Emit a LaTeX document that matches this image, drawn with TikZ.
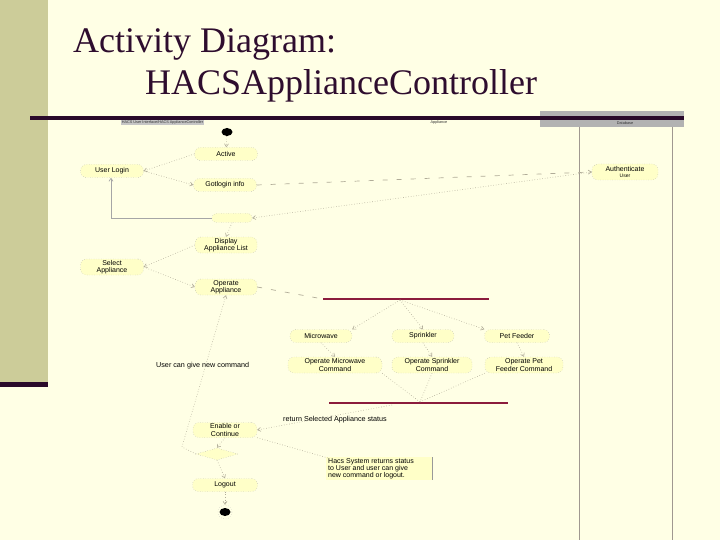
\documentclass[tikz,border=0pt]{standalone}
\usepackage{fontspec}
\setmainfont{Liberation Serif}
\newfontfamily\sansf{Liberation Sans}
\usetikzlibrary{shapes.geometric,arrows.meta}
\definecolor{bg}{HTML}{FFFFE5}
\definecolor{sidebar}{HTML}{CCCC99}
\definecolor{darkp}{HTML}{2A0A2A}
\definecolor{titlec}{HTML}{2E0D2E}
\definecolor{actfill}{HTML}{FFFFC8}
\definecolor{barc}{HTML}{8B1C3C}
\definecolor{lanec}{HTML}{A09890}
\definecolor{connc}{HTML}{B0AC98}
\begin{document}
\begin{tikzpicture}[x=1pt,y=-1pt,
  act/.style={rounded corners=6pt, draw=gray!70, dotted, fill=actfill, minimum height=13pt,
    inner sep=0.5pt, font=\sansf\fontsize{7}{7.4}\selectfont, align=center, text=black},
  conn/.style={draw=connc, dotted, line width=0.6pt},
  dconn/.style={draw=connc, dash pattern=on 5pt off 9pt, line width=0.7pt},
  arr/.style={-{Straight Barb[length=3pt,width=4pt]}},
  lbl/.style={font=\sansf\fontsize{7.2}{7.6}\selectfont, text=black, inner sep=0pt},
  hdr/.style={font=\sansf\fontsize{3.8}{4}\selectfont, text=black!80, inner sep=0.6pt},
  forkbar/.style={draw=barc, line width=2.6pt}
]
\useasboundingbox (0,0) rectangle (720,540);
\fill[bg] (0,0) rectangle (720,540);
\fill[sidebar] (0,0) rectangle (48,382);
\fill[darkp] (0,382) rectangle (48,387);

% title
\node[anchor=base west, inner sep=0pt, text=titlec, font=\fontsize{36}{36}\selectfont] (t1) at (73,53) {Activity Diagram:};
\node[anchor=base west, inner sep=0pt, text=titlec, font=\fontsize{36}{36}\selectfont] (t2) at (145,95) {HACSApplianceController};

% header band
\fill[gray!60] (540,111) rectangle (684,127);
\fill[darkp] (30,116.5) rectangle (684,120);
\node[hdr, fill=gray!45, anchor=west] (h1) at (121,122.5) {HACS User Interface/HACS ApplianceController};
\node[hdr] (h2) at (439,122.5) {Appliance};
\node[hdr] (h3) at (625,123) {Database};
\draw[lanec, line width=0.8pt] (579,127) -- (579,540);
\draw[lanec, line width=0.8pt] (672,127) -- (672,540);

% nodes
\node[fill=black, ellipse, minimum width=11pt, minimum height=8pt, inner sep=0pt] (start) at (227,132) {};
\node[act, minimum width=63pt] (active) at (226,154) {Active};
\node[act, minimum width=63pt] (login) at (112,171) {User Login};
\node[act, minimum width=63pt] (got) at (225,185) {Gotlogin info};
\node[act, minimum width=66pt, minimum height=16pt] (auth) at (625,172) {Authenticate\\[-1pt]{\fontsize{5}{5}\selectfont User}};
\node[act, minimum width=40pt, minimum height=9pt, rounded corners=4pt] (merge) at (232,218) {};
\node[act, minimum width=62pt, minimum height=16pt] (disp) at (226,245) {Display\\Appliance List};
\node[act, minimum width=63pt, minimum height=16pt] (sel) at (112,267) {Select\\Appliance};
\node[act, minimum width=62pt, minimum height=16pt] (opapp) at (226,287) {Operate\\Appliance};
\node[act, minimum width=62pt] (mw) at (321,336) {Microwave};
\node[act, minimum width=62pt] (sp) at (423,336) {Sprinkler};
\node[act, minimum width=65pt] (pf) at (517,336) {Pet Feeder};
\node[act, minimum width=94pt, minimum height=16pt] (opmw) at (335,365) {Operate Microwave\\Command};
\node[act, minimum width=80pt, minimum height=16pt] (opsp) at (432,365) {Operate Sprinkler\\Command};
\node[act, minimum width=78pt, minimum height=16pt] (oppf) at (524,365) {Operate Pet\\Feeder Command};
\node[act, minimum width=64pt, minimum height=15pt] (enab) at (225,430) {Enable or\\Continue};
\node[draw=gray!70, dotted, fill=actfill, diamond, aspect=3.5, minimum width=42pt, minimum height=12pt, inner sep=0pt] (dia) at (217,454) {};
\node[act, minimum width=65pt] (logout) at (225,485) {Logout};
\node[draw=gray!60, dotted, circle, minimum size=14pt, inner sep=0pt] (endr) at (225,512) {};
\node[fill=black, ellipse, minimum width=11pt, minimum height=8pt, inner sep=0pt] (end) at (225,512) {};

% bars
\coordinate (forkL) at (323,299); \coordinate (forkR) at (489,299);
\coordinate (joinL) at (329,403); \coordinate (joinR) at (508,403);
\draw[forkbar] (forkL) -- (forkR);
\draw[forkbar] (joinL) -- (joinR);
\coordinate (forkm) at (400,300);
\coordinate (joinm) at (420,402);

% note
\fill[actfill] (326,457) rectangle (432,480);
\draw[gray!80, line width=0.7pt] (432,457) -- (432,480);
\node[lbl, anchor=north west, align=left, font=\sansf\fontsize{7}{7.2}\selectfont] (note) at (328,458) {Hacs System returns status\\to User and user can give\\new command or logout.};

% labels
\node[lbl, anchor=west] (retl) at (283,420) {return Selected Appliance status};
\node[lbl, anchor=west] (ucl) at (156,366) {User can give new command};

% connectors
\draw[conn, arr] (start) -- (active);
\draw[conn, arr] (active.west) -- (login.east);
\draw[conn, arr] (login.east) -- (got.west);
\draw[dconn, arr] (got.east) -- (auth.west);
\draw[conn, arr] (auth.west) -- (merge.east);
\draw[draw=gray!70, line width=0.7pt, arr] (merge.west) -- (111,218) -- (login.south -| 111,0);
\draw[conn, arr] (merge.south) -- (disp.north);
\draw[conn, arr] (disp.west) -- (sel.east);
\draw[conn, arr] (sel.east) -- (opapp.west);
\draw[dconn] (opapp.east) -- (forkL);
\draw[conn, arr] (forkm) -- (mw.north east);
\draw[conn, arr] (forkm) -- (sp.north);
\draw[conn, arr] (forkm) -- (pf.north west);
\draw[conn, arr] (mw.south) -- (opmw.north);
\draw[conn, arr] (sp.south) -- (opsp.north);
\draw[conn, arr] (pf.south) -- (oppf.north);
\draw[conn] (opmw.south east) -- (joinm);
\draw[conn] (opsp.south) -- (joinm);
\draw[conn] (oppf.south west) -- (joinm);
\coordinate (joinout) at (392,405);
\draw[conn, arr] (joinout) -- (enab.east);
\draw[conn] (enab.south east) -- (note.north west);
\draw[conn, arr] (enab.south) -- (dia.north);
\draw[conn, arr] (dia.south) -- (logout.north);
\draw[conn, arr] (logout.south) -- (endr.north);
\coordinate (loopc) at (182,447);
\draw[conn, arr] (dia.west) -- (loopc) -- (opapp.south);
\end{tikzpicture}
\end{document}
